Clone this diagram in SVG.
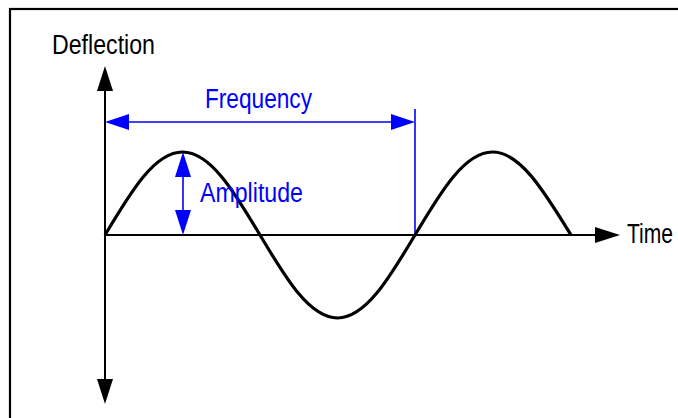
<svg xmlns="http://www.w3.org/2000/svg" width="678" height="418" viewBox="0 0 678 418">
<style>
.lbl{font-family:"Liberation Sans Narrow","Arial Narrow","Liberation Sans",Arial,sans-serif;font-size:27px}
.blk{fill:#000}
.blu{fill:#0000ff}
.ax{stroke:#000;stroke-width:2;fill:none}
.bl{stroke:#0000ff;stroke-width:1.6;fill:none}
</style>
<rect x="0" y="0" width="678" height="418" fill="#fff"/>
<rect id="frame" x="10" y="9" width="720" height="460" fill="none" stroke="#000" stroke-width="2.2"/>
<g id="connectors">
<line class="ax" x1="105" y1="88" x2="105" y2="382"/>
<polygon class="blk" points="105,66 97,91 113,91"/>
<polygon class="blk" points="105,404 97,379 113,379"/>
<line class="ax" x1="105" y1="235" x2="598" y2="235"/>
<polygon class="blk" points="620,235 595,227 595,243"/>
<line class="bl" x1="125" y1="122" x2="396" y2="122"/>
<polygon class="blu" points="105,122 129,114 129,130"/>
<polygon class="blu" points="415,122 391,114 391,130"/>
<line class="bl" x1="415" y1="109" x2="415" y2="235"/>
<line class="bl" x1="183" y1="172" x2="183" y2="215"/>
<polygon class="blu" points="183,152 175,177 191,177"/>
<polygon class="blu" points="183,235 175,210 191,210"/>
</g>
<g id="wave">
<path d="M105,235 C130.91,191.42 154.61,152 182.5,152 C210.39,152 234.09,191.42 260,235 C285.91,278.58 309.61,318 337.5,318 C365.39,318 389.09,278.58 415,235 C440.91,191.42 464.61,152 492.5,152 C520.39,152 544.09,191.42 571,235" fill="none" stroke="#000" stroke-width="3.2"/>
</g>
<g id="deflection"><text class="lbl blk" x="52" y="54" textLength="103" lengthAdjust="spacingAndGlyphs">Deflection</text></g>
<g id="time"><text class="lbl blk" transform="translate(627,243) scale(0.78,1)" x="0" y="0">Time</text></g>
<g id="frequency"><text class="lbl blu" x="205" y="108" textLength="107" lengthAdjust="spacingAndGlyphs">Frequency</text></g>
<g id="amplitude"><text class="lbl blu" x="200" y="202" textLength="103" lengthAdjust="spacingAndGlyphs">Amplitude</text></g>
</svg>
